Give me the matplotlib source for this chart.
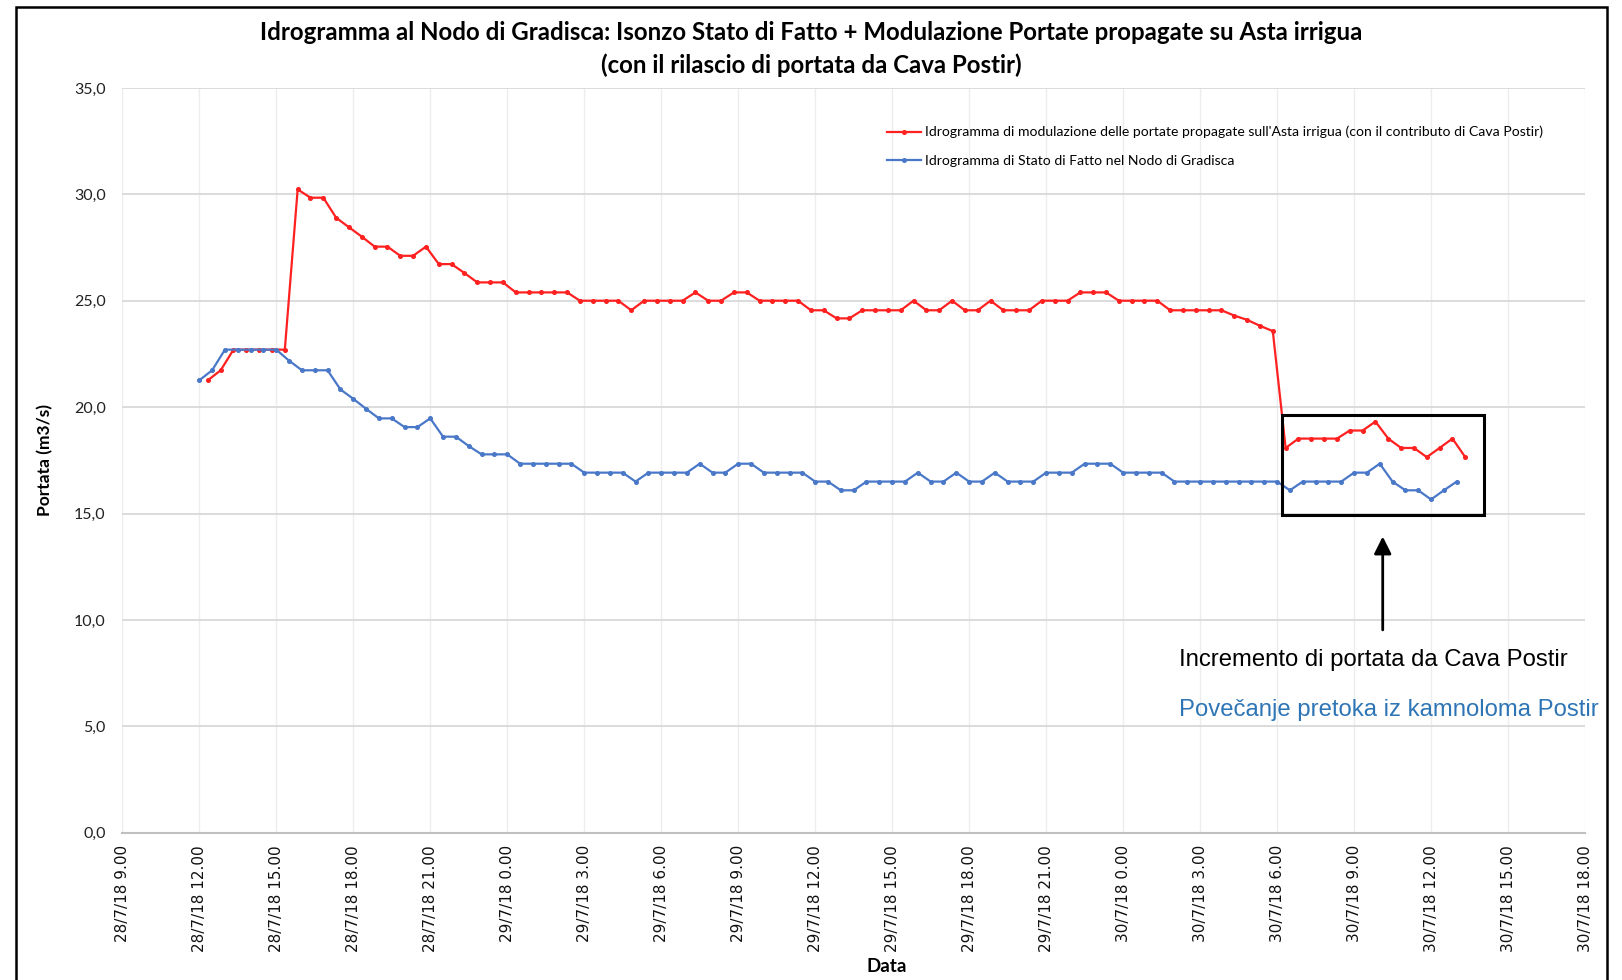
from datetime import datetime, timedelta

import matplotlib

matplotlib.use("Agg")
import matplotlib.dates as mdates
import matplotlib.pyplot as plt
from matplotlib.patches import Rectangle
from matplotlib.ticker import FuncFormatter, MultipleLocator

# --- data --------------------------------------------------------------------
title = ("Idrogramma al Nodo di Gradisca: Isonzo Stato di Fatto + Modulazione Portate propagate su Asta irrigua\n"
         "(con il rilascio di portata da Cava Postir)")
label_red = ("Idrogramma di modulazione delle portate propagate sull'Asta irrigua "
             "(con il contributo di Cava Postir)")
label_blue = "Idrogramma di Stato di Fatto nel Nodo di Gradisca"
note_it = "Incremento di portata da Cava Postir"
note_sl = "Povečanje pretoka iz kamnoloma Postir"

step = timedelta(minutes=30)
blue_start = datetime(2018, 7, 28, 12, 0)
red_start = datetime(2018, 7, 28, 12, 20)

blue_flow = [
    21.26, 21.73, 22.70, 22.70, 22.70, 22.70, 22.70, 22.18, 21.73, 21.73,
    21.73, 20.83, 20.39, 19.92, 19.47, 19.47, 19.06, 19.06, 19.47, 18.61,
    18.61, 18.17, 17.78, 17.78, 17.78, 17.34, 17.34, 17.34, 17.34, 17.34,
    16.92, 16.92, 16.92, 16.92, 16.50, 16.92, 16.92, 16.92, 16.92, 17.34,
    16.92, 16.92, 17.34, 17.34, 16.92, 16.92, 16.92, 16.92, 16.50, 16.50,
    16.09, 16.09, 16.50, 16.50, 16.50, 16.50, 16.92, 16.50, 16.50, 16.92,
    16.50, 16.50, 16.92, 16.50, 16.50, 16.50, 16.92, 16.92, 16.92, 17.34,
    17.34, 17.34, 16.92, 16.92, 16.92, 16.92, 16.50, 16.50, 16.50, 16.50,
    16.50, 16.50, 16.50, 16.50, 16.50, 16.09, 16.50, 16.50, 16.50, 16.50,
    16.92, 16.92, 17.34, 16.50, 16.09, 16.09, 15.66, 16.09, 16.50,
]

red_flow = [
    21.26, 21.73, 22.70, 22.70, 22.70, 22.70, 22.70, 30.23, 29.84, 29.84,
    28.90, 28.45, 28.01, 27.54, 27.54, 27.11, 27.11, 27.54, 26.72, 26.72,
    26.30, 25.86, 25.86, 25.86, 25.39, 25.39, 25.39, 25.39, 25.39, 25.00,
    25.00, 25.00, 25.00, 24.55, 25.00, 25.00, 25.00, 25.00, 25.39, 25.00,
    25.00, 25.39, 25.39, 25.00, 25.00, 25.00, 25.00, 24.55, 24.55, 24.17,
    24.17, 24.55, 24.55, 24.55, 24.55, 25.00, 24.55, 24.55, 25.00, 24.55,
    24.55, 25.00, 24.55, 24.55, 24.55, 25.00, 25.00, 25.00, 25.39, 25.39,
    25.39, 25.00, 25.00, 25.00, 25.00, 24.55, 24.55, 24.55, 24.55, 24.55,
    24.30, 24.10, 23.82, 23.57, 18.08, 18.52, 18.52, 18.52, 18.52, 18.90,
    18.90, 19.32, 18.52, 18.08, 18.08, 17.65, 18.08, 18.52, 17.65,
]

blue_time = [blue_start + i * step for i in range(len(blue_flow))]
red_time = [red_start + i * step for i in range(len(red_flow))]

x_min = datetime(2018, 7, 28, 9, 0)
x_max = datetime(2018, 7, 30, 18, 0)

# highlighted window and arrow
box_t0, box_t1 = datetime(2018, 7, 30, 6, 11), datetime(2018, 7, 30, 14, 4)
box_q0, box_q1 = 14.92, 19.65
arrow_t = datetime(2018, 7, 30, 10, 7)
note_t = datetime(2018, 7, 30, 2, 11)

RED = "#FF2020"
BLUE = "#4A78C8"
TXT_BLUE = "#2E75B6"


def fmt_date(x, pos=None):
    d = mdates.num2date(x)
    return f"{d.day}/{d.month}/{d:%y} {d.hour}.{d.minute:02d}"


fig = plt.figure(figsize=(16.22, 9.80), dpi=100)
ax = fig.add_axes([0.0754, 0.1503, 0.9018, 0.7600])

ax.plot(red_time, red_flow, color=RED, lw=1.6, marker="o", ms=2.6, label=label_red, zorder=3)
ax.plot(blue_time, blue_flow, color=BLUE, lw=1.6, marker="o", ms=2.6, label=label_blue, zorder=3)

ax.set_xlim(x_min, x_max)
ax.set_ylim(0, 35)
ax.xaxis.set_major_locator(mdates.HourLocator(byhour=range(0, 24, 3)))
ax.xaxis.set_major_formatter(FuncFormatter(fmt_date))
ax.yaxis.set_major_locator(MultipleLocator(5))
ax.yaxis.set_major_formatter(FuncFormatter(lambda v, p: f"{v:.1f}".replace(".", ",")))

ax.grid(axis="y", color="#D9D9D9", lw=1.3)
ax.grid(axis="x", color="#EDEDED", lw=1.0)
ax.set_axisbelow(True)
for side in ("top", "right", "left"):
    ax.spines[side].set_visible(False)
ax.spines["bottom"].set_color("#BFBFBF")
ax.spines["bottom"].set_linewidth(1.5)

ax.tick_params(axis="both", length=0)
ax.tick_params(axis="x", pad=9, labelrotation=90)
ax.tick_params(axis="y", pad=12)
for lab in ax.get_xticklabels():
    lab.set_fontfamily("DejaVu Sans")
    lab.set_fontsize(11.0)
    lab.set_color("#111111")
for lab in ax.get_yticklabels():
    lab.set_fontfamily("Lato")
    lab.set_fontsize(11.5)
    lab.set_color("#222222")

ax.set_ylabel("Portata (m3/s)", fontfamily="Lato", fontweight="bold", fontsize=12.5)
ax.yaxis.set_label_coords(-0.047, 0.5)
ax.set_xlabel("Data", fontfamily="Lato", fontweight="bold", fontsize=13.5)
ax.xaxis.set_label_coords(0.5225, -0.168)

fig.suptitle(title, y=0.979, fontfamily="Lato", fontweight="bold", fontsize=17.3, linespacing=1.5)

ax.legend(loc="upper left", bbox_to_anchor=(0.5228, 0.949), frameon=False,
          prop={"family": "Lato", "size": 10.1}, handlelength=2.4, handletextpad=0.3,
          labelspacing=1.2, borderpad=0, borderaxespad=0)

# highlight box, arrow and notes
t0, t1 = mdates.date2num(box_t0), mdates.date2num(box_t1)
ax.add_patch(Rectangle((t0, box_q0), t1 - t0, box_q1 - box_q0, fill=False,
                       edgecolor="black", lw=2.2, zorder=4))
ax.annotate("", xy=(arrow_t, 14.05), xytext=(arrow_t, 9.4),
            arrowprops=dict(arrowstyle="-|>", color="black", lw=2, mutation_scale=26))
ax.text(note_t, 7.85, note_it, fontfamily="Liberation Sans", fontsize=17.2, va="baseline", ha="left")
ax.text(note_t, 5.5, note_sl, fontfamily="Liberation Sans", fontsize=17.2, va="baseline", ha="left",
        color=TXT_BLUE)

# outer chart border
fig.patches.append(Rectangle((0.0097, -0.02), 0.9811, 1.013, transform=fig.transFigure,
                             fill=False, edgecolor="black", lw=1.8))

fig.savefig("out.png", dpi=100)
